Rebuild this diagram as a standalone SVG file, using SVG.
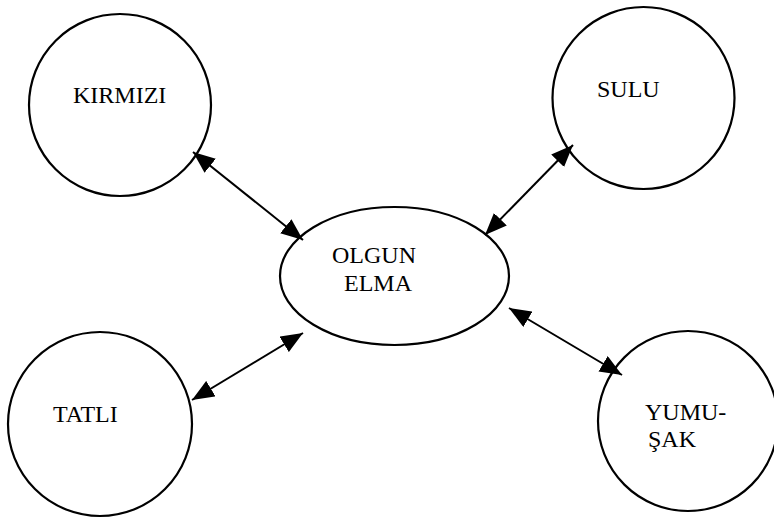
<svg xmlns="http://www.w3.org/2000/svg" width="774" height="518" viewBox="0 0 774 518">
<style>
.n{fill:#fff;stroke:#000;stroke-width:2.2}
.t{font-family:"Liberation Serif","Times New Roman",serif;font-size:24px;fill:#000}
.c{stroke:#000;stroke-width:2;fill:none;marker-start:url(#ah);marker-end:url(#ah)}
</style>
<defs>
<marker id="ah" markerUnits="userSpaceOnUse" viewBox="0 0 22 18" refX="22" refY="9" markerWidth="22" markerHeight="18" orient="auto-start-reverse">
<path d="M0,0 L22,9 L0,18 Z" fill="#000"/>
</marker>
</defs>
<rect width="774" height="518" fill="#fff"/>
<g id="kirmizi"><circle class="n" cx="120" cy="105" r="91"/><text class="t" x="73" y="103">KIRMIZI</text></g>
<g id="sulu"><circle class="n" cx="643.5" cy="98" r="91"/><text class="t" x="597" y="97">SULU</text></g>
<g id="tatli"><circle class="n" cx="100" cy="424" r="92"/><text class="t" x="53" y="422">TATLI</text></g>
<g id="yumusak"><circle class="n" cx="688" cy="421" r="90"/><text class="t" x="645" y="420">YUMU-</text><text class="t" x="648" y="447">ŞAK</text></g>
<g id="olgun-elma"><ellipse class="n" cx="394.5" cy="276" rx="114.5" ry="69"/><text class="t" x="332" y="263">OLGUN</text><text class="t" x="344" y="291">ELMA</text></g>
<g id="connectors">
<line class="c" x1="193" y1="152" x2="303" y2="240"/>
<line class="c" x1="573" y1="145" x2="485" y2="235"/>
<line class="c" x1="192" y1="400" x2="303" y2="333"/>
<line class="c" x1="509" y1="308" x2="622" y2="375"/>
</g>
</svg>
